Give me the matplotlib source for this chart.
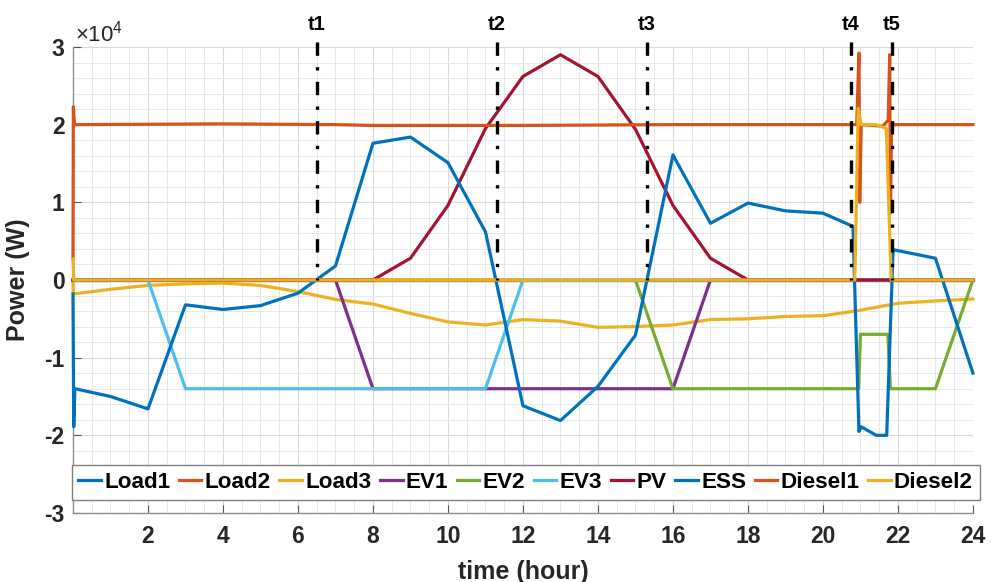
import matplotlib
matplotlib.use("Agg")
import matplotlib.pyplot as plt
from matplotlib.ticker import MultipleLocator

plt.rcParams['font.family'] = ['Liberation Sans', 'DejaVu Sans']
plt.rcParams['axes.unicode_minus'] = False
plt.rcParams['mathtext.fontset'] = 'custom'
plt.rcParams['mathtext.rm'] = 'Liberation Sans'


# power values are in units of 1e4 W
hours = list(range(25))

load1 = [0] * 25
load2 = [0] * 25
load3_t = [0, 0.01] + list(range(1, 25))
load3 = [0, -0.18, -0.12, -0.07, -0.05, -0.04, -0.07, -0.15, -0.25, -0.31, -0.43,
         -0.54, -0.58, -0.51, -0.53, -0.61, -0.60, -0.58, -0.51, -0.50, -0.47,
         -0.46, -0.39, -0.30, -0.27, -0.245]

ev1 = [0] * 8 + [-1.4] * 9 + [0] * 8
ev3 = [0] * 3 + [-1.4] * 9 + [0] * 13
ev2_t = [0, 15, 16, 20.95, 21.0, 21.73, 21.8, 23, 24]
ev2 = [0, 0, -1.4, -1.4, -0.7, -0.7, -1.4, -1.4, 0]

pv = [0] * 9 + [0.28, 0.96, 1.95, 2.62, 2.9, 2.62, 1.94, 0.96, 0.28] + [0] * 7

ess_t = [0, 0.02, 0.05, 1, 2, 3, 4, 5, 6, 7, 8, 9, 10, 11, 12, 13, 14, 15, 16,
         17, 18, 19, 20, 20.8, 20.96, 21.02, 21.42, 21.7, 21.87, 23, 24]
ess = [-0.18, -1.89, -1.4, -1.5, -1.66, -0.32, -0.38, -0.33, -0.17, 0.18, 1.76,
       1.84, 1.51, 0.62, -1.62, -1.81, -1.37, -0.71, 1.61, 0.73, 0.99, 0.89, 0.86,
       0.69, -1.95, -1.89, -2.0, -2.0, 0.39, 0.28, -1.2]

diesel1_t = [0, 0.01, 0.04, 4, 7, 8, 12, 16, 20.9, 20.96, 20.98, 21.02, 21.6,
             21.74, 21.78, 21.8, 21.83, 24]
diesel1 = [0.28, 2.23, 2.0, 2.01, 2.0, 1.99, 1.99, 2.0, 2.0, 2.92, 1.0, 2.0, 1.98,
           2.06, 2.9, 0.86, 2.0, 2.0]

diesel2_t = [0, 0.02, 20.85, 20.94, 21.02, 21.42, 21.69, 21.82, 24]
diesel2 = [0.27, 0, 0, 2.21, 2.0, 2.0, 1.95, 0, 0]

events = [6.5, 11.3, 15.3, 20.75, 21.83]
event_labels = ['t1', 't2', 't3', 't4', 't5']

series = [
    ('Load1', hours, load1, '#0072BD'),
    ('Load2', hours, load2, '#D95319'),
    ('Load3', load3_t, load3, '#EDB120'),
    ('EV1', hours, ev1, '#7E2F8E'),
    ('EV2', ev2_t, ev2, '#77AC30'),
    ('EV3', hours, ev3, '#4DBEEE'),
    ('PV', hours, pv, '#A2142F'),
    ('ESS', ess_t, ess, '#0072BD'),
    ('Diesel1', diesel1_t, diesel1, '#D95319'),
    ('Diesel2', diesel2_t, diesel2, '#EDB120'),
]

fig = plt.figure(figsize=(9.93, 5.82), dpi=100)
ax = fig.add_axes([0.0735, 0.1186, 0.9063, 0.8007])

for name, t, v, c in series:
    ax.plot(t, v, color=c, lw=2.3, label=name, clip_on=False, zorder=3)

for t, lab in zip(events, event_labels):
    ax.plot([t, t], [3.07, 0], color='black', lw=2.4, clip_on=False, zorder=5,
            linestyle=(0, (4.0, 3.4, 1.0, 3.4)), dash_capstyle='butt')
    ax.text(t, 3.22, lab, ha='center', va='baseline', fontsize=14.5,
            fontweight='bold')

ax.set_xlim(0, 24)
ax.set_ylim(-3, 3)
ax.set_xticks(range(2, 25, 2))
ax.set_yticks(range(-3, 4))
ax.xaxis.set_minor_locator(MultipleLocator(0.5))
ax.yaxis.set_minor_locator(MultipleLocator(0.2))
ax.grid(which='major', color='#dadada', lw=0.8)
ax.grid(which='minor', color='#e8e8e8', lw=0.7)
ax.set_axisbelow(True)

for s in ['top', 'right']:
    ax.spines[s].set_visible(False)
for s in ['left', 'bottom']:
    ax.spines[s].set_color('#8c8c8c')
    ax.spines[s].set_linewidth(1.0)

ax.tick_params(which='major', direction='in', length=6, width=0.8,
               color='#555555', labelsize=16.5)
ax.tick_params(which='minor', length=0)
ax.tick_params(axis='x', pad=9)
ax.tick_params(axis='y', pad=6)
for lbl in ax.get_xticklabels() + ax.get_yticklabels():
    lbl.set_fontweight('bold')
    lbl.set_color('#262626')

ax.text(0.002, 1.012, r'$\mathregular{×10^{4}}$', transform=ax.transAxes,
        fontsize=16, ha='left', va='baseline', color='#262626')

ax.set_ylabel('Power (W)', fontsize=18, fontweight='bold', color='#262626',
              labelpad=10)
ax.set_xlabel('time (hour)', fontsize=18, fontweight='bold', color='#262626',
              labelpad=8)

leg = ax.legend(loc='lower center', bbox_to_anchor=(0.503, 0.028), ncol=10,
                fontsize=16.2, handlelength=1.0, handletextpad=0.15,
                columnspacing=0.38, borderpad=0.3, borderaxespad=0,
                fancybox=False, framealpha=1, edgecolor='#7f7f7f')
leg.get_frame().set_linewidth(1.0)
for txt in leg.get_texts():
    txt.set_fontweight('bold')

fig.savefig('out.png', dpi=100)
